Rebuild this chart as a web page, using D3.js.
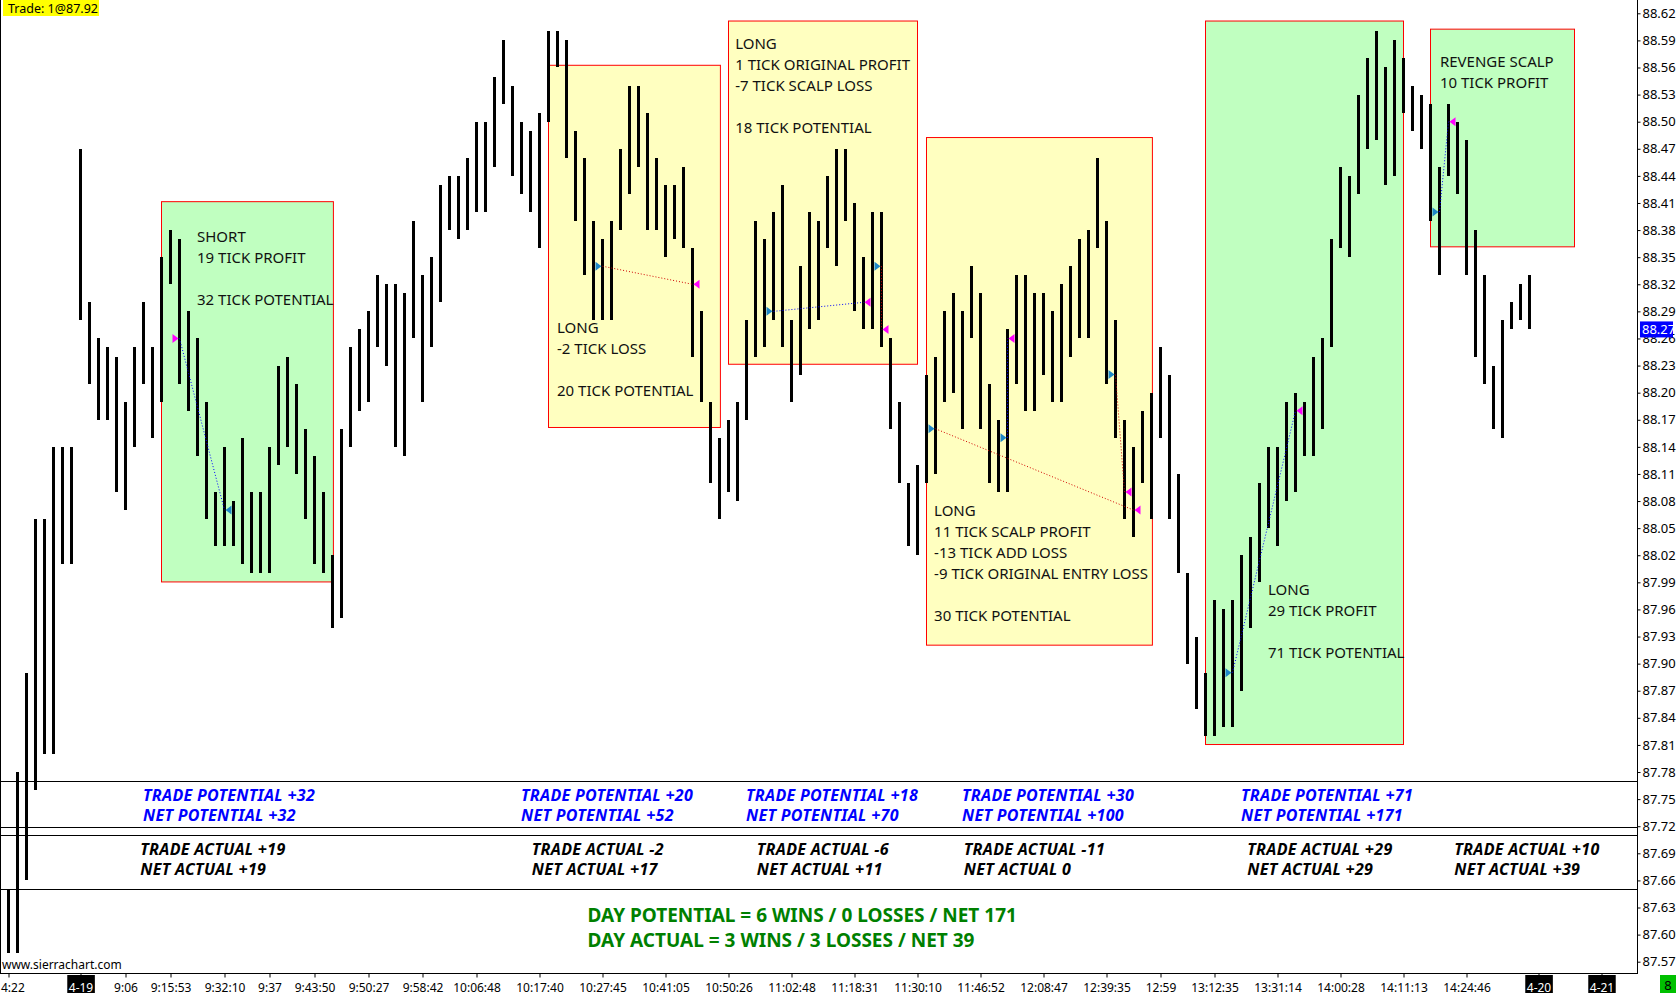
<!DOCTYPE html>
<html>
<head>
<meta charset="utf-8">
<script src="https://cdn.jsdelivr.net/npm/d3@7"></script>
<style>
    html, body { margin: 0; padding: 0; background: #fff; overflow: hidden; }
    svg { display: block; }
    text { font-family: "Noto Sans", sans-serif; }
</style>
</head>
<body>
<svg id="chart" width="1677" height="995"></svg>
<script>
// bar highs / lows, one per bar
var highs = [
    87.65, 87.78, 87.89, 88.06, 88.06, 88.14, 88.14, 88.14, 88.47, 88.30,
    88.26, 88.25, 88.24, 88.19, 88.25, 88.30, 88.25, 88.35, 88.38, 88.37,
    88.29, 88.26, 88.19, 88.09, 88.14, 88.08, 88.15, 88.09, 88.09, 88.14,
    88.23, 88.24, 88.21, 88.16, 88.13, 88.09, 88.02, 88.16, 88.25, 88.27,
    88.29, 88.33, 88.32, 88.32, 88.31, 88.39, 88.33, 88.35, 88.43, 88.44,
    88.44, 88.46, 88.50, 88.50, 88.55, 88.59, 88.54, 88.50, 88.49, 88.51,
    88.60, 88.60, 88.59, 88.49, 88.46, 88.39, 88.37, 88.39, 88.47, 88.54,
    88.54, 88.51, 88.46, 88.43, 88.43, 88.45, 88.36, 88.29, 88.19, 88.15,
    88.17, 88.19, 88.28, 88.39, 88.37, 88.40, 88.43, 88.28, 88.34, 88.40,
    88.39, 88.44, 88.47, 88.47, 88.41, 88.35, 88.40, 88.40, 88.26, 88.19,
    88.10, 88.12, 88.22, 88.24, 88.29, 88.31, 88.29, 88.34, 88.31, 88.21,
    88.17, 88.27, 88.33, 88.33, 88.31, 88.31, 88.29, 88.32, 88.34, 88.37,
    88.38, 88.46, 88.39, 88.28, 88.17, 88.14, 88.18, 88.20, 88.25, 88.22,
    88.11, 88.00, 87.93, 87.89, 87.97, 87.96, 87.97, 88.02, 88.04, 88.10,
    88.14, 88.14, 88.19, 88.20, 88.19, 88.24, 88.26, 88.37, 88.45, 88.44,
    88.53, 88.57, 88.60, 88.56, 88.59, 88.57, 88.54, 88.53, 88.52, 88.45,
    88.52, 88.50, 88.48, 88.38, 88.33, 88.23, 88.28, 88.30, 88.32, 88.33
]
var lows = [
    87.58, 87.58, 87.66, 87.76, 87.80, 87.80, 88.01, 88.01, 88.28, 88.21,
    88.17, 88.17, 88.09, 88.07, 88.14, 88.21, 88.15, 88.19, 88.32, 88.21,
    88.18, 88.13, 88.06, 88.03, 88.03, 88.03, 88.01, 88.00, 88.00, 88.00,
    88.12, 88.14, 88.11, 88.06, 88.01, 88.00, 87.94, 87.95, 88.14, 88.18,
    88.19, 88.25, 88.23, 88.14, 88.13, 88.26, 88.19, 88.25, 88.30, 88.38,
    88.37, 88.38, 88.40, 88.40, 88.45, 88.52, 88.44, 88.42, 88.40, 88.36,
    88.50, 88.56, 88.46, 88.39, 88.33, 88.28, 88.28, 88.28, 88.38, 88.42,
    88.45, 88.38, 88.38, 88.35, 88.37, 88.36, 88.24, 88.19, 88.10, 88.06,
    88.09, 88.08, 88.17, 88.24, 88.25, 88.28, 88.25, 88.19, 88.22, 88.27,
    88.28, 88.36, 88.34, 88.39, 88.29, 88.27, 88.27, 88.25, 88.16, 88.10,
    88.03, 88.02, 88.10, 88.11, 88.19, 88.20, 88.16, 88.26, 88.16, 88.10,
    88.09, 88.09, 88.21, 88.18, 88.18, 88.22, 88.19, 88.19, 88.24, 88.26,
    88.26, 88.36, 88.21, 88.15, 88.06, 88.04, 88.10, 88.06, 88.15, 88.06,
    88.00, 87.90, 87.85, 87.82, 87.82, 87.83, 87.83, 87.87, 87.94, 87.99,
    88.05, 88.03, 88.08, 88.09, 88.13, 88.13, 88.16, 88.25, 88.36, 88.35,
    88.42, 88.47, 88.48, 88.43, 88.44, 88.51, 88.49, 88.47, 88.39, 88.33,
    88.44, 88.42, 88.33, 88.24, 88.21, 88.16, 88.15, 88.27, 88.28, 88.27
]

// time axis labels (bar index -> label)
var xTickIdx = [0, 8, 13, 18, 24, 29, 34, 40, 46, 52, 59, 66, 73, 80, 87, 94,
    101, 108, 115, 122, 128, 134, 141, 148, 155, 162, 170, 177]
var xTickLbl = ['4:22', '4-19', '9:06', '9:15:53', '9:32:10', '9:37', '9:43:50',
    '9:50:27', '9:58:42', '10:06:48', '10:17:40', '10:27:45', '10:41:05',
    '10:50:26', '11:02:48', '11:18:31', '11:30:10', '11:46:52', '12:08:47',
    '12:39:35', '12:59', '13:12:35', '13:31:14', '14:00:28', '14:11:13',
    '14:24:46', '4-20', '4-21']

// price axis labels
var yTicks = [87.57, 87.60, 87.63, 87.66, 87.69, 87.72, 87.75, 87.78, 87.81,
    87.84, 87.87, 87.90, 87.93, 87.96, 87.99, 88.02, 88.05, 88.08, 88.11,
    88.14, 88.17, 88.20, 88.23, 88.26, 88.29, 88.32, 88.35, 88.38, 88.41,
    88.44, 88.47, 88.50, 88.53, 88.56, 88.59, 88.62]

var lastPrice = 88.27
var tradeLabel = 'Trade: 1@87.92'
var barCount = '8'

// horizontal separator lines (price levels)
var levelLines = [87.770, 87.719, 87.710, 87.650]

// highlighted trade zones: bar index span, price span, text anchor
var boxes = [
    { i0: 17, i1: 36.1, top: 88.412, bottom: 87.991, kind: 'win', ti: 21, tp: 88.367,
      lines: ['SHORT', '19 TICK PROFIT', '', '32 TICK POTENTIAL'] },
    { i0: 60, i1: 79.1, top: 88.563, bottom: 88.162, kind: 'loss', ti: 61, tp: 88.266,
      lines: ['LONG', '-2 TICK LOSS', '', '20 TICK POTENTIAL'] },
    { i0: 80, i1: 101, top: 88.612, bottom: 88.232, kind: 'loss', ti: 80.8, tp: 88.581,
      lines: ['LONG', '1 TICK ORIGINAL PROFIT', '-7 TICK SCALP LOSS', '', '18 TICK POTENTIAL'] },
    { i0: 102, i1: 127.1, top: 88.483, bottom: 87.921, kind: 'loss', ti: 102.9, tp: 88.063,
      lines: ['LONG', '11 TICK SCALP PROFIT', '-13 TICK ADD LOSS', '-9 TICK ORIGINAL ENTRY LOSS', '', '30 TICK POTENTIAL'] },
    { i0: 133, i1: 155, top: 88.612, bottom: 87.811, kind: 'win', ti: 140, tp: 87.976,
      lines: ['LONG', '29 TICK PROFIT', '', '71 TICK POTENTIAL'] },
    { i0: 158, i1: 174, top: 88.603, bottom: 88.362, kind: 'win', ti: 159.1, tp: 88.561,
      lines: ['REVENGE SCALP', '10 TICK PROFIT'] }
]

// fills: entry bar/price, exit bar/price
var trades = [
    { i0: 19, p0: 88.26, i1: 24, p1: 88.07, side: 'sell', win: true },
    { i0: 66, p0: 88.34, i1: 76, p1: 88.32, side: 'buy', win: false },
    { i0: 85, p0: 88.29, i1: 95, p1: 88.30, side: 'buy', win: true },
    { i0: 97, p0: 88.34, i1: 97, p1: 88.27, side: 'buy', win: false },
    { i0: 103, p0: 88.16, i1: 125, p1: 88.07, side: 'buy', win: false },
    { i0: 111, p0: 88.15, i1: 111, p1: 88.26, side: 'buy', win: true },
    { i0: 123, p0: 88.22, i1: 124, p1: 88.09, side: 'buy', win: false },
    { i0: 136, p0: 87.89, i1: 143, p1: 88.18, side: 'buy', win: true },
    { i0: 159, p0: 88.40, i1: 160, p1: 88.50, side: 'buy', win: true }
]

var potentialNotes = [
    { i: 15, lines: ['TRADE POTENTIAL +32', 'NET POTENTIAL +32'] },
    { i: 57, lines: ['TRADE POTENTIAL +20', 'NET POTENTIAL +52'] },
    { i: 82, lines: ['TRADE POTENTIAL +18', 'NET POTENTIAL +70'] },
    { i: 106, lines: ['TRADE POTENTIAL +30', 'NET POTENTIAL +100'] },
    { i: 137, lines: ['TRADE POTENTIAL +71', 'NET POTENTIAL +171'] }
]
var actualNotes = [
    { i: 14.7, lines: ['TRADE ACTUAL +19', 'NET ACTUAL +19'] },
    { i: 58.2, lines: ['TRADE ACTUAL -2', 'NET ACTUAL +17'] },
    { i: 83.2, lines: ['TRADE ACTUAL -6', 'NET ACTUAL +11'] },
    { i: 106.2, lines: ['TRADE ACTUAL -11', 'NET ACTUAL 0'] },
    { i: 137.7, lines: ['TRADE ACTUAL +29', 'NET ACTUAL +29'] },
    { i: 160.7, lines: ['TRADE ACTUAL +10', 'NET ACTUAL +39'] }
]
var potentialPrice = 87.748
var actualPrice = 87.688
var dayLines = ['DAY POTENTIAL = 6 WINS / 0 LOSSES / NET 171', 'DAY ACTUAL = 3 WINS / 3 LOSSES / NET 39']
var dayIdx = 64.4
var dayPrice = 87.614

;(function () {
    'use strict'

    var plotRight = 1637,
        plotBottom = 973

    var colors = {
        win: '#c0ffc0',
        loss: '#ffffc0',
        border: '#ff0000',
        buy: '#1e88c8',
        sell: '#ff00ff',
        winLine: '#0000ff',
        lossLine: '#d00000'
    }

    var svg = d3.select('#chart')

    var x = d3.scaleLinear().domain([0, highs.length - 1]).range([8, 8 + 9 * (highs.length - 1)])
    var y = d3.scaleLinear().domain([87.57, 88.62]).range([961.7, 13.3])

    // trade zones
    var zone = svg.append('g').attr('class', 'zones')
    zone.selectAll('rect')
        .data(boxes)
        .join('rect')
        .attr('x', function (d) { return x(d.i0) + 0.5 })
        .attr('y', function (d) { return y(d.top) + 0.5 })
        .attr('width', function (d) { return x(d.i1) - x(d.i0) })
        .attr('height', function (d) { return y(d.bottom) - y(d.top) })
        .attr('fill', function (d) { return colors[d.kind] })
        .attr('stroke', colors.border)
        .attr('stroke-width', 1)

    // separator lines
    svg.append('g').selectAll('line')
        .data(levelLines)
        .join('line')
        .attr('x1', 0).attr('x2', plotRight)
        .attr('y1', function (d) { return Math.round(y(d)) + 0.5 })
        .attr('y2', function (d) { return Math.round(y(d)) + 0.5 })
        .attr('stroke', '#000')

    // HL bars
    svg.append('g').attr('class', 'bars')
        .attr('shape-rendering', 'crispEdges')
        .selectAll('line')
        .data(highs)
        .join('line')
        .attr('x1', function (d, i) { return x(i) + 0.5 })
        .attr('x2', function (d, i) { return x(i) + 0.5 })
        .attr('y1', function (d) { return y(d) })
        .attr('y2', function (d, i) { return y(lows[i]) })
        .attr('stroke', '#000')
        .attr('stroke-width', 3)

    // fill connectors
    svg.append('g').selectAll('line')
        .data(trades)
        .join('line')
        .attr('x1', function (d) { return x(d.i0) + 0.5 })
        .attr('y1', function (d) { return y(d.p0) })
        .attr('x2', function (d) { return x(d.i1) + 0.5 })
        .attr('y2', function (d) { return y(d.p1) })
        .attr('stroke', function (d) { return d.win ? colors.winLine : colors.lossLine })
        .attr('stroke-width', 1)
        .attr('stroke-dasharray', '1,2')

    // fill markers
    var marks = []
    trades.forEach(function (t) {
        marks.push({ i: t.i0, p: t.p0, side: t.side, dir: 1 })
        marks.push({ i: t.i1, p: t.p1, side: t.side === 'buy' ? 'sell' : 'buy', dir: -1 })
    })
    svg.append('g').selectAll('path')
        .data(marks)
        .join('path')
        .attr('d', function (d) {
            var cx = x(d.i) + 0.5 - d.dir, cy = y(d.p)
            return 'M' + cx + ',' + cy + 'L' + (cx - 6 * d.dir) + ',' + (cy - 4.5) + 'L' + (cx - 6 * d.dir) + ',' + (cy + 4.5) + 'Z'
        })
        .attr('fill', function (d) { return colors[d.side] })

    // zone captions
    var lineH = 21
    svg.append('g').selectAll('text')
        .data(boxes)
        .join('text')
        .attr('font-size', 15)
        .attr('fill', '#111')
        .each(function (d) {
            var t = d3.select(this)
            d.lines.forEach(function (s, k) {
                t.append('tspan')
                    .attr('x', x(d.ti))
                    .attr('y', y(d.tp) + k * lineH)
                    .text(s)
            })
        })

    function notes(data, price, color) {
        svg.append('g').selectAll('text')
            .data(data)
            .join('text')
            .attr('font-size', 16)
            .attr('letter-spacing', 0.3)
            .attr('font-weight', 'bold')
            .attr('font-style', 'italic')
            .attr('fill', color)
            .each(function (d) {
                var t = d3.select(this)
                d.lines.forEach(function (s, k) {
                    t.append('tspan')
                        .attr('x', x(d.i))
                        .attr('y', y(price) + k * 20)
                        .text(s)
                })
            })
    }
    notes(potentialNotes, potentialPrice, '#0000ff')
    notes(actualNotes, actualPrice, '#000')

    svg.append('g').selectAll('text')
        .data(dayLines)
        .join('text')
        .attr('x', x(dayIdx))
        .attr('y', function (d, k) { return y(dayPrice) + k * 25 })
        .attr('font-size', 19)
        .attr('font-weight', 'bold')
        .attr('fill', '#008000')
        .text(function (d) { return d })

    // frame
    svg.append('line').attr('x1', 0.5).attr('x2', 0.5).attr('y1', 0).attr('y2', plotBottom).attr('stroke', '#000')
    svg.append('line').attr('x1', plotRight + 0.5).attr('x2', plotRight + 0.5).attr('y1', 0).attr('y2', plotBottom + 0.5).attr('stroke', '#000')
    svg.append('line').attr('x1', 0).attr('x2', plotRight + 1).attr('y1', plotBottom + 0.5).attr('y2', plotBottom + 0.5).attr('stroke', '#000')

    // price axis
    var gy = svg.append('g')
        .attr('transform', 'translate(' + (plotRight + 0.5) + ',0)')
        .call(d3.axisRight(y).tickValues(yTicks).tickFormat(d3.format('.2f')).tickSize(3).tickPadding(2))
    gy.attr('font-size', 13).attr('font-family', '"Noto Sans", sans-serif')
    gy.select('.domain').remove()

    var ly = y(lastPrice)
    var cur = svg.append('g').attr('transform', 'translate(' + (plotRight + 3) + ',' + ly + ')')
    cur.append('rect').attr('x', 0).attr('y', -8).attr('width', 33).attr('height', 16).attr('fill', '#0000ff')
    cur.append('text').attr('x', 2).attr('dy', '0.36em').attr('font-size', 13).attr('fill', '#fff').text(d3.format('.2f')(lastPrice))

    // time axis
    var gx = svg.append('g')
        .attr('transform', 'translate(0.5,' + (plotBottom + 0.5) + ')')
        .call(d3.axisBottom(x).tickValues(xTickIdx)
            .tickFormat(function (d, i) { return xTickLbl[i] })
            .tickSize(4).tickPadding(6))
    gx.attr('font-size', 12).attr('font-family', '"Noto Sans", sans-serif')
    gx.select('.domain').remove()
    gx.selectAll('.tick text').each(function (d, i) {
        var t = d3.select(this)
        if (i === 0) t.attr('text-anchor', 'start').attr('x', -x(0))
        if (/^\d+-\d+$/.test(xTickLbl[i])) {
            var b = this.getBBox()
            d3.select(this.parentNode).insert('rect', 'text')
                .attr('x', b.x - 1.5).attr('y', 1.5)
                .attr('width', b.width + 3).attr('height', 18)
                .attr('fill', '#000')
            t.attr('fill', '#fff')
        }
    })

    // bar count badge
    svg.append('rect').attr('x', 1660).attr('y', 975).attr('width', 16).attr('height', 18).attr('fill', '#00c000')
    svg.append('text').attr('x', 1668).attr('y', 990).attr('text-anchor', 'middle').attr('font-size', 13).text(barCount)

    // trade readout, watermark
    svg.append('rect').attr('x', 3).attr('y', 0).attr('width', 96).attr('height', 16).attr('fill', '#ffff00')
    svg.append('text').attr('x', 8).attr('y', 12.5).attr('font-size', 12.5).text(tradeLabel)
    svg.append('text').attr('x', 2).attr('y', 969).attr('font-size', 12).text('www.sierrachart.com')
})()
</script>
</body>
</html>
